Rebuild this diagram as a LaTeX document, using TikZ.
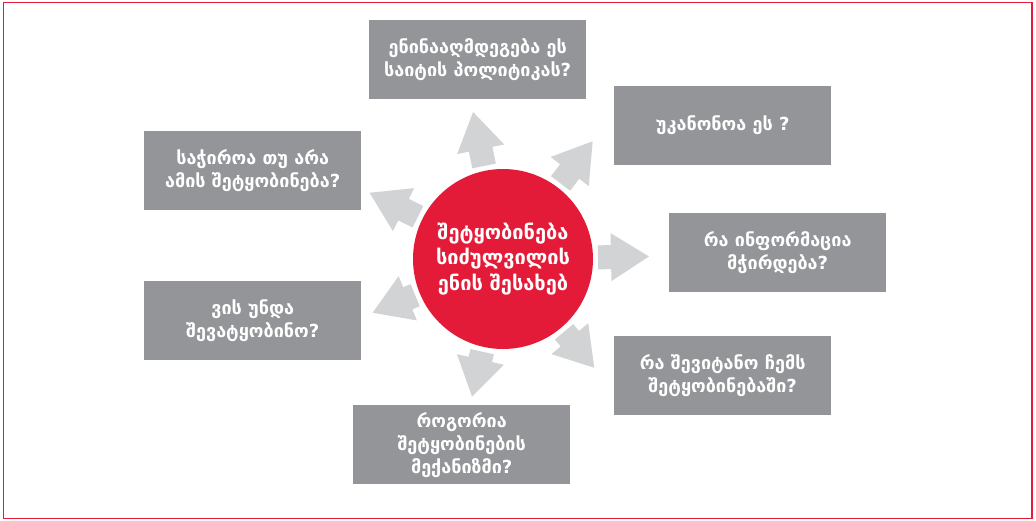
\documentclass[tikz,border=0pt]{standalone}
\usepackage{fontspec}
\setmainfont{DejaVu Sans}
\definecolor{boxgray}{RGB}{147,149,152}
\definecolor{arrgray}{RGB}{209,211,212}
\definecolor{myred}{RGB}{227,27,56}
\newcommand\blockarr[2]{%
  \fill[arrgray, shift={(ctr)}, rotate=#1]
    (95,-12) -- ({#2-38},-12) -- ({#2-38},-24) -- (#2,0) -- ({#2-38},24) -- ({#2-38},12) -- (95,12) -- cycle;}
\begin{document}
\begin{tikzpicture}[x=1pt,y=-1pt,
  qbox/.style={fill=boxgray, minimum width=217pt, minimum height=79pt, inner sep=0pt,
    text=white, font=\bfseries\fontsize{18}{23}\selectfont, align=center, anchor=north west},
  hub/.style={circle, fill=myred, minimum size=180pt, inner sep=0pt, text=white,
    font=\bfseries\fontsize{20}{25.5}\selectfont, align=center}]
\useasboundingbox (0,0) rectangle (1036,520);
\draw[myred, line width=1.5pt] (3.5,2.5) rectangle (1032,518.5);
\coordinate (ctr) at (503,259);
\blockarr{101.5}{150}
\blockarr{52.7}{148}
\blockarr{1}{146}
\blockarr{-50}{142}
\blockarr{-102.7}{141}
\blockarr{-157.6}{141}
\blockarr{153.6}{149}
\node[hub] (hub) at (ctr) {შეტყობინება\\სიძულვილის\\ენის შესახებ};
\node[qbox] (b1) at (369,20) {ენინააღმდეგება ეს\\საიტის პოლიტიკას?};
\node[qbox] (b2) at (614,86) {უკანონოა ეს ?};
\node[qbox] (b3) at (144,131) {საჭიროა თუ არა\\ამის შეტყობინება?};
\node[qbox] (b4) at (669,213) {რა ინფორმაცია\\მჭირდება?};
\node[qbox] (b5) at (144,281) {ვის უნდა\\შევატყობინო?};
\node[qbox] (b6) at (614,336) {რა შევიტანო ჩემს\\შეტყობინებაში?};
\node[qbox] (b7) at (353,405) {როგორია\\შეტყობინების\\მექანიზმი?};
\end{tikzpicture}
\end{document}
